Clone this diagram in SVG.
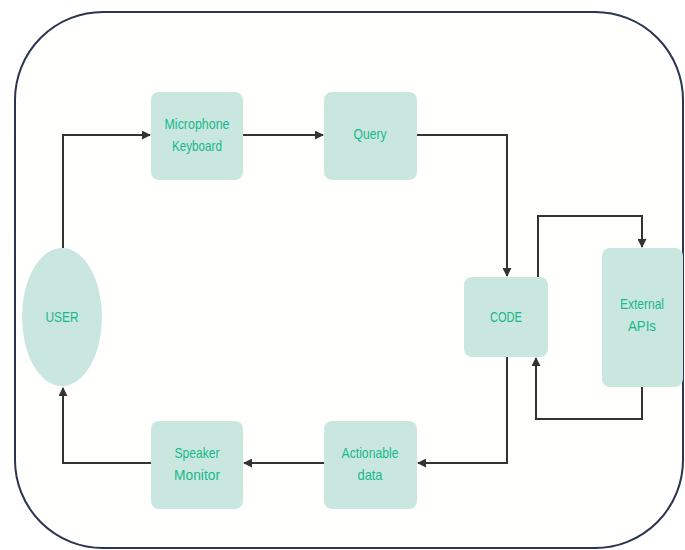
<svg xmlns="http://www.w3.org/2000/svg" width="685" height="550" viewBox="0 0 685 550">
<style>
.box{fill:#c9e7de;}
.lbl{font-family:"Liberation Sans",Arial,sans-serif;font-size:14.5px;fill:#17b88c;text-anchor:middle;dominant-baseline:central;}
.conn{fill:none;stroke:#333333;stroke-width:2;marker-end:url(#arr);}
</style>
<defs>
<marker id="arr" viewBox="0 0 10 10" refX="9" refY="5" markerWidth="4.5" markerHeight="4.5" orient="auto" markerUnits="strokeWidth">
<path d="M0,0 L10,5 L0,10 z" fill="#333333"/>
</marker>
</defs>
<rect width="685" height="550" fill="#ffffff"/>
<rect id="frame" x="15" y="12" width="668" height="536" rx="88" ry="88" fill="#fffffd" stroke="#2b3450" stroke-width="2"/>
<g id="connectors">
<path class="conn" d="M63,248 L63,135 L150,135"/>
<path class="conn" d="M243,135 L323,135"/>
<path class="conn" d="M417,135 L507,135 L507,276"/>
<path class="conn" d="M538,277 L538,216 L642,216 L642,247"/>
<path class="conn" d="M642,387 L642,419 L536,419 L536,358"/>
<path class="conn" d="M507,357 L507,463 L418,463"/>
<path class="conn" d="M324,463 L244,463"/>
<path class="conn" d="M151,463 L63,463 L63,388"/>
</g>
<g id="user">
<ellipse class="box" cx="62" cy="317" rx="40" ry="69"/>
<text class="lbl" x="62" y="317" textLength="33" lengthAdjust="spacingAndGlyphs">USER</text>
</g>
<g id="mic">
<rect class="box" x="151" y="92" width="92" height="88" rx="8"/>
<text class="lbl" x="197" y="124" textLength="65" lengthAdjust="spacingAndGlyphs">Microphone</text>
<text class="lbl" x="197" y="146" textLength="50" lengthAdjust="spacingAndGlyphs">Keyboard</text>
</g>
<g id="query">
<rect class="box" x="324" y="92" width="93" height="88" rx="8"/>
<text class="lbl" x="370" y="134" textLength="33" lengthAdjust="spacingAndGlyphs">Query</text>
</g>
<g id="code">
<rect class="box" x="464" y="277" width="84" height="80" rx="8"/>
<text class="lbl" x="506" y="317" textLength="32" lengthAdjust="spacingAndGlyphs">CODE</text>
</g>
<g id="apis">
<rect class="box" x="602" y="248" width="81" height="139" rx="8"/>
<text class="lbl" x="642" y="304" textLength="44" lengthAdjust="spacingAndGlyphs">External</text>
<text class="lbl" x="642" y="326" textLength="28" lengthAdjust="spacingAndGlyphs">APIs</text>
</g>
<g id="actionable">
<rect class="box" x="324" y="421" width="93" height="88" rx="8"/>
<text class="lbl" x="370" y="453" textLength="57" lengthAdjust="spacingAndGlyphs">Actionable</text>
<text class="lbl" x="370" y="475" textLength="25" lengthAdjust="spacingAndGlyphs">data</text>
</g>
<g id="speaker">
<rect class="box" x="151" y="421" width="92" height="88" rx="8"/>
<text class="lbl" x="197" y="453" textLength="45" lengthAdjust="spacingAndGlyphs">Speaker</text>
<text class="lbl" x="197" y="475" textLength="46" lengthAdjust="spacingAndGlyphs">Monitor</text>
</g>
</svg>
